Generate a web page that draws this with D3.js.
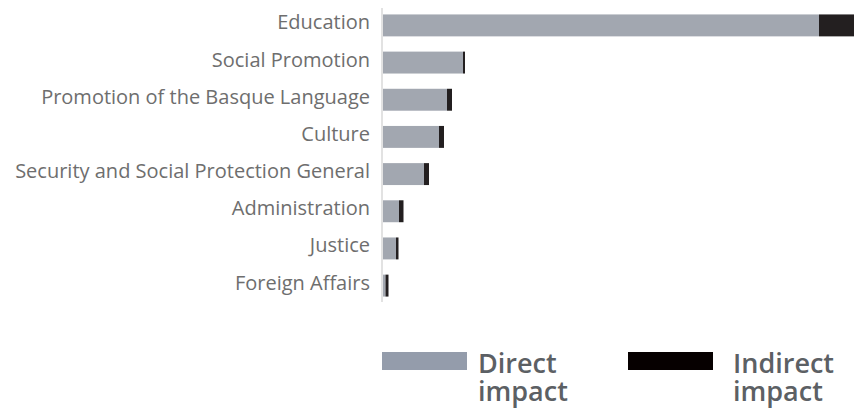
<!DOCTYPE html>
<html><head><meta charset="utf-8">
<script src="https://cdn.jsdelivr.net/npm/d3@7"></script>
<style>body{margin:0;background:#fff}svg{display:block}</style>
</head><body>
<script>
const categories = ["Education","Social Promotion","Promotion of the Basque Language","Culture","Security and Social Protection General","Administration","Justice","Foreign Affairs"];
const direct   = [436, 80, 64, 56, 41, 16, 13, 2.5];
const indirect = [36, 2, 5, 5, 5, 4.5, 2.5, 3];
const seriesNames = ["Direct impact","Indirect impact"];

const W = 854, H = 412;
const svg = d3.select("body").append("svg").attr("width", W).attr("height", H);
const x = d3.scaleLinear().domain([0, 471]).range([383, 854]);
const y = d3.scaleBand().domain(categories).range([7, 304]).paddingInner(0.41).paddingOuter(0.2);

const rows = categories.map((c,i)=>({c, d:direct[i], n:indirect[i]}));

svg.append("line").attr("x1",382).attr("x2",382).attr("y1",8).attr("y2",302)
  .attr("stroke","#e2e2e2").attr("stroke-width",2);

const g = svg.append("g");
g.selectAll("rect.d").data(rows).join("rect").attr("class","d")
  .attr("x", x(0)).attr("y", d=>y(d.c)).attr("height", y.bandwidth())
  .attr("width", d=>x(d.d)-x(0)).attr("fill","#a2a7b0");
g.selectAll("rect.n").data(rows).join("rect").attr("class","n")
  .attr("x", d=>x(d.d)).attr("y", d=>y(d.c)).attr("height", y.bandwidth())
  .attr("width", d=>x(d.d+d.n)-x(d.d)).attr("fill","#231f20");

svg.append("g").selectAll("text").data(categories).join("text")
  .attr("x", 370).attr("y", d=>y(d)+y.bandwidth()/2+4)
  .attr("text-anchor","end").attr("font-family","'Open Sans'").attr("font-size",20)
  .attr("fill","#6e6e6e").text(d=>d);

const legend = [{name:seriesNames[0], color:"#949cab", x:382, tx:478},
                {name:seriesNames[1], color:"#060000", x:628, tx:733}];
const lg = svg.append("g").selectAll("g").data(legend).join("g");
lg.append("rect").attr("x",d=>d.x).attr("y",352).attr("width",85).attr("height",18).attr("fill",d=>d.color);
const t = lg.append("text").attr("font-family","'Open Sans'").attr("font-weight",600)
  .attr("font-size",27).attr("fill","#5c6064");
t.each(function(d){
  const parts = d.name.split(" ");
  d3.select(this).selectAll("tspan").data(parts).join("tspan")
    .attr("x", d.tx).attr("y",(p,i)=>373+i*28).text(p=>p);
});
</script>
</body></html>
